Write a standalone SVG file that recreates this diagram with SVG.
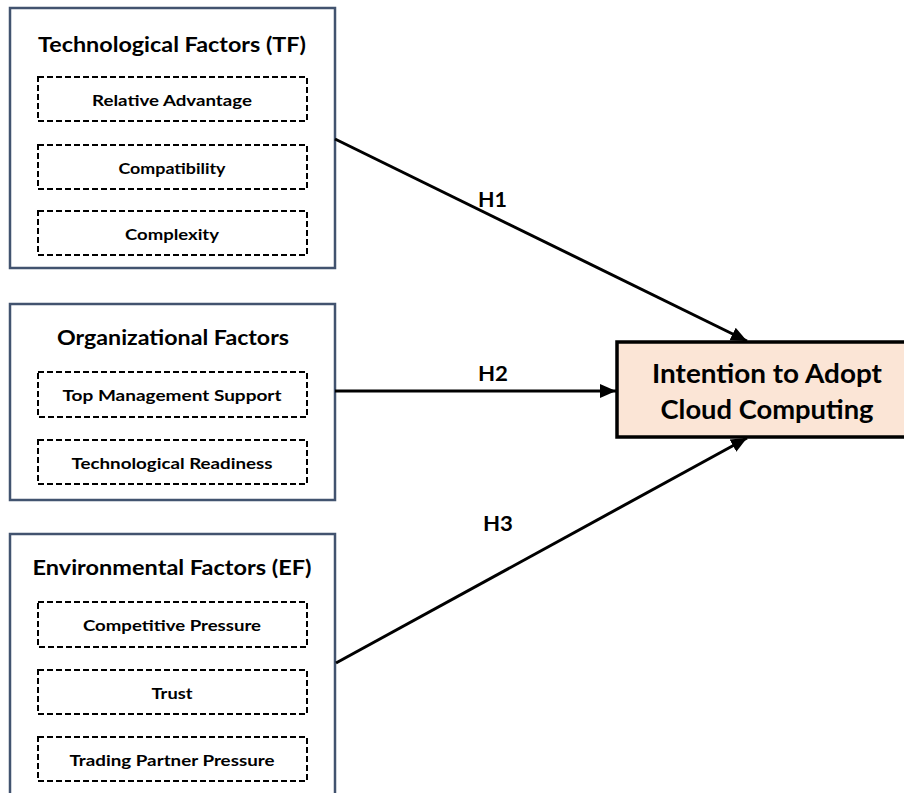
<svg xmlns="http://www.w3.org/2000/svg" width="904" height="793" viewBox="0 0 904 793">
<style>
.outer{fill:#ffffff;stroke:#42536f;stroke-width:2.5}
.inner{fill:none;stroke:#000000;stroke-width:2;stroke-dasharray:6,3}
.title{font-family:Lato,"Open Sans","Liberation Sans",sans-serif;font-weight:bold;font-size:21px;fill:#000;text-anchor:middle}
.item{font-family:Lato,"Open Sans","Liberation Sans",sans-serif;font-weight:bold;font-size:16px;fill:#000;text-anchor:middle}
.target{fill:#fbe5d6;stroke:#000;stroke-width:3.5}
.ttext{font-family:Lato,"Open Sans","Liberation Sans",sans-serif;font-weight:bold;font-size:27px;fill:#000;text-anchor:middle}
.hlab{font-family:Lato,"Open Sans","Liberation Sans",sans-serif;font-weight:bold;font-size:20px;fill:#000}
.conn{stroke:#000;stroke-width:3;fill:none;marker-end:url(#ah)}
</style>
<defs>
<marker id="ah" markerUnits="userSpaceOnUse" markerWidth="18" markerHeight="16" refX="16" refY="8" orient="auto">
<path d="M0,1 L16,8 L0,15 Z" fill="#000"/>
</marker>
</defs>
<rect width="904" height="793" fill="#ffffff"/>
<g id="tf">
<rect class="outer" x="10" y="8" width="325" height="260"/>
<text class="title" x="172" y="52" textLength="268" lengthAdjust="spacingAndGlyphs">Technological Factors (TF)</text>
<g id="tf-ra"><rect class="inner" x="38" y="77" width="269" height="44"/><text class="item" x="172" y="106" textLength="160" lengthAdjust="spacingAndGlyphs">Relative Advantage</text></g>
<g id="tf-co"><rect class="inner" x="38" y="145" width="269" height="44"/><text class="item" x="172" y="174" textLength="107" lengthAdjust="spacingAndGlyphs">Compatibility</text></g>
<g id="tf-cx"><rect class="inner" x="38" y="211" width="269" height="44"/><text class="item" x="172" y="240" textLength="94" lengthAdjust="spacingAndGlyphs">Complexity</text></g>
</g>
<g id="of">
<rect class="outer" x="10" y="304" width="325" height="196"/>
<text class="title" x="173" y="345" textLength="232" lengthAdjust="spacingAndGlyphs">Organizational Factors</text>
<g id="of-tms"><rect class="inner" x="38" y="372" width="269" height="45"/><text class="item" x="172" y="401" textLength="219" lengthAdjust="spacingAndGlyphs">Top Management Support</text></g>
<g id="of-tr"><rect class="inner" x="38" y="440" width="269" height="44"/><text class="item" x="172" y="469" textLength="201" lengthAdjust="spacingAndGlyphs">Technological Readiness</text></g>
</g>
<g id="ef">
<rect class="outer" x="10" y="534" width="325" height="280"/>
<text class="title" x="172" y="575" textLength="279" lengthAdjust="spacingAndGlyphs">Environmental Factors (EF)</text>
<g id="ef-cp"><rect class="inner" x="38" y="602" width="269" height="45"/><text class="item" x="172" y="631" textLength="178" lengthAdjust="spacingAndGlyphs">Competitive Pressure</text></g>
<g id="ef-t"><rect class="inner" x="38" y="670" width="269" height="44"/><text class="item" x="172" y="699" textLength="41" lengthAdjust="spacingAndGlyphs">Trust</text></g>
<g id="ef-tpp"><rect class="inner" x="38" y="737" width="269" height="44"/><text class="item" x="172" y="766" textLength="205" lengthAdjust="spacingAndGlyphs">Trading Partner Pressure</text></g>
</g>
<g id="target">
<rect class="target" x="617" y="342" width="300" height="95"/>
<text class="ttext" x="767" y="383" textLength="230" lengthAdjust="spacingAndGlyphs">Intention to Adopt</text>
<text class="ttext" x="767" y="419" textLength="213" lengthAdjust="spacingAndGlyphs">Cloud Computing</text>
</g>
<g id="connectors">
<line class="conn" x1="335" y1="139" x2="747" y2="341"/>
<line class="conn" x1="335" y1="391" x2="616" y2="391"/>
<line class="conn" x1="336" y1="663" x2="747" y2="438"/>
<text class="hlab" x="478" y="207" textLength="29" lengthAdjust="spacingAndGlyphs">H1</text>
<text class="hlab" x="478" y="381" textLength="30" lengthAdjust="spacingAndGlyphs">H2</text>
<text class="hlab" x="483" y="531" textLength="30" lengthAdjust="spacingAndGlyphs">H3</text>
</g>
</svg>
